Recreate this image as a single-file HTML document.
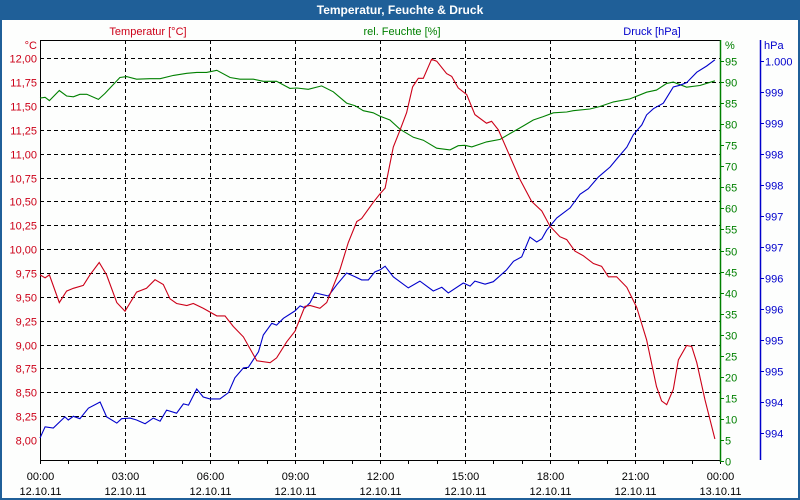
<!DOCTYPE html>
<html><head><meta charset="utf-8"><style>
html,body{margin:0;padding:0;background:#fff;}
#wrap{position:relative;width:800px;height:500px;overflow:hidden;font-family:"Liberation Sans",sans-serif;}
svg text{font-family:"Liberation Sans",sans-serif;font-size:11px;}
</style></head><body>
<div id="wrap">
<svg id="chart" width="800" height="500" xmlns="http://www.w3.org/2000/svg">
<rect x="0" y="0" width="800" height="500" fill="#fdfefd"/>
<rect x="1" y="1" width="798" height="498" fill="none" stroke="#1f5f98" stroke-width="2"/>
<rect x="0" y="0" width="800" height="20" fill="#1f5f98"/>
<text x="400" y="14" text-anchor="middle" fill="#fff" font-weight="bold" style="font-size:12px">Temperatur, Feuchte &amp; Druck</text>
<text x="148" y="35" text-anchor="middle" fill="#cc0018">Temperatur [°C]</text>
<text x="402" y="35" text-anchor="middle" fill="#008000">rel. Feuchte [%]</text>
<text x="652" y="35" text-anchor="middle" fill="#0000cc">Druck [hPa]</text>
<text x="37" y="49" text-anchor="end" fill="#cc0018">°C</text>
<text x="725" y="49" fill="#008000">%</text>
<text x="764" y="49" fill="#0000cc">hPa</text>
<g id="grid"></g>
<g id="axes"></g>
<g id="series"></g>
</svg>
</div>
<script>
// ---- data ----
const xTickLabels = ["00:00","03:00","06:00","09:00","12:00","15:00","18:00","21:00","00:00"];
const xDateLabels = ["12.10.11","12.10.11","12.10.11","12.10.11","12.10.11","12.10.11","12.10.11","12.10.11","13.10.11"];
const tempTicks = [8,8.25,8.5,8.75,9,9.25,9.5,9.75,10,10.25,10.5,10.75,11,11.25,11.5,11.75,12];
const humTicks = [0,5,10,15,20,25,30,35,40,45,50,55,60,65,70,75,80,85,90,95];
const presTicks = [1000,999.5,999,998.5,998,997.5,997,996.5,996,995.5,995,994.5,994];
const tempHours = [0,0.18,0.33,0.68,0.94,1.18,1.53,1.76,2.09,2.35,2.71,3.0,3.41,3.76,4.06,4.35,4.59,4.82,5.18,5.41,5.76,6.24,6.53,6.82,7.18,7.65,8.12,8.35,8.71,9.0,9.35,9.53,9.88,10.12,10.59,10.88,11.18,11.35,11.76,12.0,12.18,12.47,12.71,12.94,13.15,13.35,13.53,13.82,14.0,14.35,14.53,14.76,15.06,15.35,15.76,15.94,16.18,16.53,16.94,17.35,17.71,18.0,18.35,18.59,18.88,19.18,19.53,19.82,20.06,20.35,20.71,21.06,21.41,21.76,21.94,22.12,22.35,22.53,22.82,23.0,23.18,23.47,23.82];
const tempValues = [9.73,9.70,9.73,9.44,9.56,9.59,9.62,9.73,9.86,9.73,9.44,9.35,9.55,9.59,9.68,9.63,9.48,9.43,9.41,9.43,9.38,9.30,9.30,9.19,9.08,8.83,8.81,8.86,9.03,9.14,9.40,9.41,9.38,9.44,9.79,10.07,10.29,10.32,10.49,10.58,10.64,11.07,11.25,11.43,11.70,11.79,11.79,11.99,11.97,11.84,11.81,11.69,11.62,11.41,11.32,11.34,11.25,11.01,10.73,10.50,10.40,10.24,10.13,10.10,9.98,9.93,9.85,9.82,9.71,9.71,9.60,9.39,9.05,8.56,8.41,8.37,8.53,8.84,8.99,8.98,8.81,8.42,8.01];
const humHours = [0,0.18,0.33,0.68,0.94,1.18,1.41,1.65,2.06,2.29,2.82,3.06,3.41,3.88,4.24,4.71,5.18,5.53,5.88,6.24,6.71,7.06,7.53,7.88,8.35,8.82,9.06,9.47,9.94,10.35,10.82,11.12,11.41,11.76,12.0,12.35,12.71,13.18,13.53,14.0,14.47,14.76,15.0,15.24,15.76,16.24,16.59,17.06,17.41,17.76,18.12,18.59,18.82,19.41,19.76,20.24,20.82,21.41,21.76,22.12,22.35,22.82,23.29,23.82];
const humValues = [86.2,86.4,85.6,88.0,86.7,86.5,87.1,87.1,85.9,87.3,91.1,91.3,90.7,90.8,90.8,91.6,92.1,92.3,92.3,92.8,91.1,90.7,90.7,90.2,90.2,88.5,88.6,88.3,89.1,87.7,85.0,84.4,83.2,82.7,81.9,81.0,78.8,76.9,76.2,74.3,73.9,74.9,75.0,74.6,75.8,76.4,77.8,79.6,81.0,81.8,82.7,82.9,83.2,83.6,84.2,85.3,86.0,87.6,88.1,89.7,90.0,88.8,89.2,90.3];
const presHours = [0,0.18,0.47,0.88,1.0,1.18,1.41,1.71,2.12,2.35,2.71,2.88,3.18,3.41,3.71,4.0,4.24,4.47,4.82,5.06,5.24,5.53,5.76,6.0,6.35,6.65,6.88,7.18,7.35,7.71,7.88,8.18,8.35,8.59,9.0,9.18,9.35,9.53,9.71,10.18,10.47,10.82,11.12,11.35,11.59,11.82,12.0,12.18,12.47,13.0,13.41,13.88,14.18,14.41,14.94,15.18,15.35,15.71,16.0,16.47,16.71,17.0,17.29,17.53,17.71,17.88,18.24,18.71,19.06,19.35,19.71,20.12,20.41,20.71,20.94,21.24,21.41,21.65,22.0,22.35,22.59,22.82,23.18,23.53,23.82];
const presValues = [993.92,994.10,994.08,994.26,994.21,994.27,994.23,994.40,994.50,994.26,994.16,994.23,994.24,994.21,994.15,994.24,994.19,994.37,994.32,994.47,994.45,994.71,994.58,994.55,994.55,994.65,994.89,995.05,995.06,995.31,995.58,995.77,995.74,995.85,995.97,996.05,996.02,996.10,996.26,996.21,996.39,996.58,996.52,996.47,996.47,996.60,996.63,996.69,996.52,996.34,996.45,996.29,996.35,996.26,996.42,996.37,996.45,996.40,996.44,996.63,996.77,996.84,997.16,997.08,997.13,997.27,997.47,997.63,997.85,997.94,998.13,998.29,998.45,998.61,998.81,998.97,999.13,999.23,999.32,999.58,999.61,999.65,999.82,999.92,1000.02];

// ---- scales ----
const X0=40, X1=720, YT=40, YB=460;
function xScale(h){return X0+(X1-X0)*h/24;}
function yTemp(v){return 440-(v-8)*(440-58.3)/4;}
function yHum(v){return 461-v*4.21;}
function yPres(v){return 61+(1000-v)*62;}
const NS="http://www.w3.org/2000/svg";
function mk(tag,attrs,parent){const e=document.createElementNS(NS,tag);for(const k in attrs)e.setAttribute(k,attrs[k]);parent.appendChild(e);return e;}
const grid=document.getElementById('grid'), axes=document.getElementById('axes'), series=document.getElementById('series');

// horizontal grid + temp labels
tempTicks.forEach(v=>{
  const y=Math.round(yTemp(v))+0.5;
  if(v>8){const l=mk('line',{x1:X0,x2:X1,y1:y,y2:y,stroke:'#000','stroke-dasharray':'4,3','stroke-width':1},grid);
  
  }
  const t=mk('text',{x:37,y:y+4,'text-anchor':'end',fill:'#cc0018'},axes);
  t.textContent=v.toFixed(2).replace('.',',');
  
  
});
// vertical grid + x labels
xTickLabels.forEach((lab,i)=>{
  const x=Math.round(xScale(i*3))+0.5;
  if(i>0&&i<8){const l=mk('line',{x1:x,x2:x,y1:YT,y2:YB,stroke:'#000','stroke-dasharray':'4,3','stroke-width':1},grid);
  
  }
  const t=mk('text',{x:x,y:480,'text-anchor':'middle',fill:'#000'},axes);
  t.textContent=lab;
  
  
  const d=mk('text',{x:x,y:495,'text-anchor':'middle',fill:'#000'},axes);
  d.textContent=xDateLabels[i];
  
  
});
for(let h=0;h<=24;h++){const x=Math.round(xScale(h))+0.5;
  const l=mk('line',{x1:x,x2:x,y1:YB,y2:YB+4,stroke:'#000'},axes);
  
  }
// frame
const f1=mk('path',{d:`M${X0+0.5},${YB+0.5}V${YT+0.5}H${X1}`,fill:'none',stroke:'#000'},axes);


const xa=mk('line',{x1:X0,x2:X1,y1:YB+0.5,y2:YB+0.5,stroke:'#000'},axes);


// humidity axis
const ha=mk('line',{x1:X1+0.5,x2:X1+0.5,y1:YT,y2:462,stroke:'#008000','stroke-width':1.5},axes);


humTicks.forEach(v=>{const y=Math.round(yHum(v))+0.5;
  const tk=mk('line',{x1:X1,x2:X1+4,y1:y,y2:y,stroke:'#008000'},axes);
  
  
  const t=mk('text',{x:X1+5,y:y+4,fill:'#008000'},axes);
  t.textContent=String(v);
  
  });
// pressure axis
const pa=mk('line',{x1:760.5,x2:760.5,y1:YT,y2:460,stroke:'#0000cc','stroke-width':1.5},axes);


presTicks.forEach(v=>{const y=Math.round(yPres(v))+0.5;
  const tk=mk('line',{x1:760,x2:764,y1:y,y2:y,stroke:'#0000cc'},axes);
  
  
  const t=mk('text',{x:765,y:y+4,fill:'#0000cc'},axes);
  const fl=Math.floor(v);
  t.textContent=fl>=1000?'1.000':String(fl);
  
  });
// series
function line(hours,vals,ys,color,name){
  const d=hours.map((h,i)=>(i?'L':'M')+xScale(h).toFixed(1)+','+ys(vals[i]).toFixed(1)).join('');
  const p=mk('path',{d:d,fill:'none',stroke:color,'stroke-width':1.1},series);
  
  
}
line(humHours,humValues,yHum,'#008000','humidity-line');
line(presHours,presValues,yPres,'#0000cc','pressure-line');
line(tempHours,tempValues,yTemp,'#cc0018','temperature-line');
</script>
</body></html>
